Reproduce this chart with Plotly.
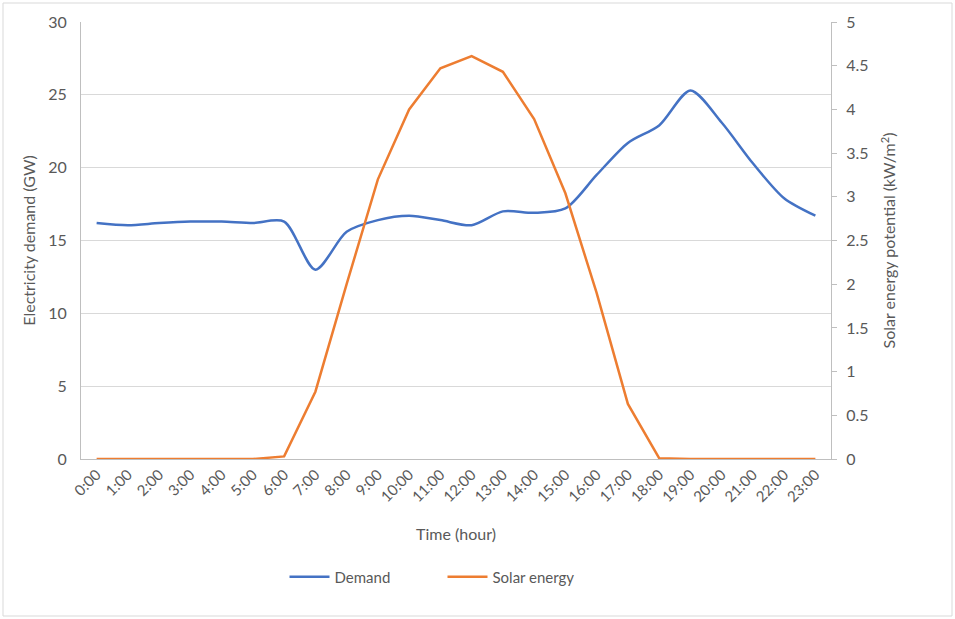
import plotly.graph_objects as go

hours = [f"{h}:00" for h in range(24)]
demand = [16.2, 16.05, 16.2, 16.3, 16.3, 16.2, 16.3, 13.0, 15.6, 16.4, 16.7, 16.4,
          16.05, 17.0, 16.9, 17.2, 19.5, 21.7, 22.9, 25.3, 23.1, 20.3, 17.9, 16.7]
solar = [0, 0, 0, 0, 0, 0, 0.03, 0.77, 2.0, 3.2, 4.0, 4.47, 4.61, 4.43, 3.89, 3.04,
         1.9, 0.63, 0.01, 0, 0, 0, 0, 0]

left_ticks = [0, 5, 10, 15, 20, 25, 30]
right_ticks = [0, 0.5, 1, 1.5, 2, 2.5, 3, 3.5, 4, 4.5, 5]
right_labels = ["0", "0.5", "1", "1.5", "2", "2.5", "3", "3.5", "4", "4.5", "5"]

GRAY = "#595959"
FONT = "Lato"

fig = go.Figure()
fig.add_trace(go.Scatter(x=hours, y=demand, name="Demand", mode="lines",
                         line=dict(color="#4472C4", width=2.5, shape="spline", smoothing=0.8),
                         yaxis="y"))
fig.add_trace(go.Scatter(x=hours, y=solar, name="Solar energy", mode="lines",
                         line=dict(color="#ED7D31", width=2.5),
                         yaxis="y2"))

fig.update_layout(
    width=955, height=619,
    margin=dict(l=81, r=124, t=22, b=160),
    paper_bgcolor="white", plot_bgcolor="white",
    font=dict(family=FONT, color=GRAY, size=15),
    showlegend=True,
    legend=dict(orientation="h", x=0.482, xanchor="center", y=-0.27, yanchor="middle",
                font=dict(size=15, color=GRAY), entrywidth=103, itemwidth=40),
    xaxis=dict(type="category", range=[-0.5, 23.5], tickangle=-45,
               showline=True, linecolor="#BFBFBF", linewidth=1,
               showgrid=False, ticks="", tickfont=dict(size=15, color=GRAY),
               title=dict(text="Time (hour)", font=dict(size=16, color=GRAY), standoff=24)),
    yaxis=dict(range=[0, 30], tickvals=left_ticks, showgrid=True, gridcolor="#D9D9D9",
               showline=True, linecolor="#BFBFBF", linewidth=1, zeroline=False,
               ticks="", tickfont=dict(size=16, color=GRAY), ticklabelstandoff=10,
               title=dict(text="Electricity demand (GW)", font=dict(size=16, color=GRAY), standoff=8)),
    yaxis2=dict(range=[0, 5], tickvals=right_ticks, ticktext=right_labels, overlaying="y",
                side="right", showgrid=False, showline=True, linecolor="#BFBFBF", linewidth=1,
                zeroline=False, ticks="outside", ticklen=5, tickcolor="#BFBFBF",
                tickfont=dict(size=16, color=GRAY), ticklabelstandoff=6,
                title=dict(text="Solar energy potential (kW/m<sup>2</sup>)",
                           font=dict(size=16, color=GRAY), standoff=16)),
    shapes=[dict(type="rect", xref="paper", yref="paper",
                 x0=(3 - 81) / 750, x1=(952 - 81) / 750,
                 y0=(459 - 616) / 437, y1=(459 - 3) / 437,
                 line=dict(color="#D9D9D9", width=1), fillcolor="rgba(0,0,0,0)", layer="below")],
)

fig.write_html("out.html")
